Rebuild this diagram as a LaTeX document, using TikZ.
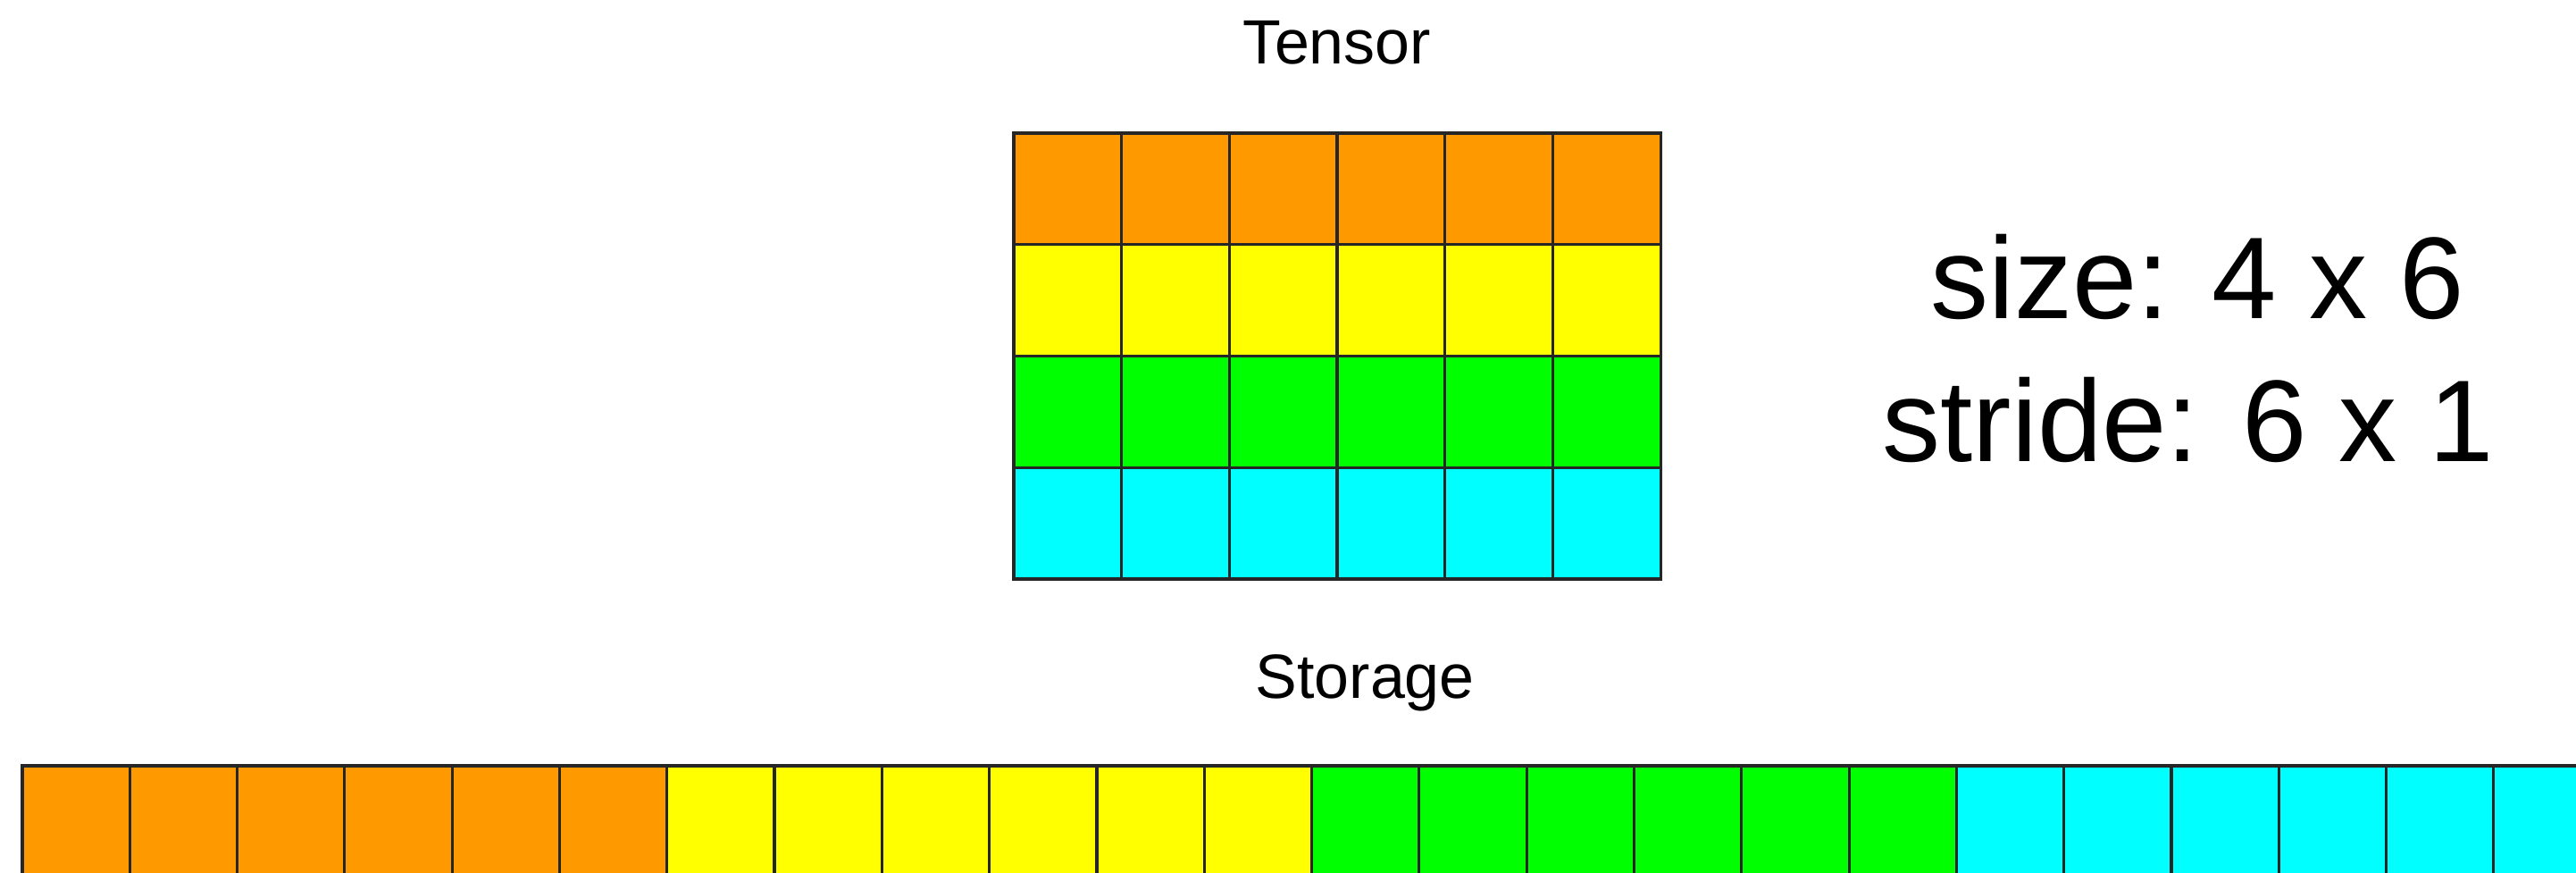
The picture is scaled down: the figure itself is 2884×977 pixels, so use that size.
\documentclass[tikz,border=0pt]{standalone}
\usepackage{fontspec}
\setmainfont{Liberation Sans}
\usepackage{tikz}
\definecolor{rowOrange}{RGB}{255,153,0}
\definecolor{rowYellow}{RGB}{255,255,0}
\definecolor{rowGreen}{RGB}{0,255,0}
\definecolor{rowCyan}{RGB}{0,255,255}
\tikzset{
  cellbox/.style={rectangle,draw=black!85,line width=0.9pt,inner sep=0pt,
    minimum width=1.207cm,minimum height=1.2475cm},
  slotbox/.style={rectangle,draw=black!85,line width=0.9pt,inner sep=0pt,
    minimum width=1.203cm,minimum height=1.2475cm},
  titletext/.style={inner sep=0pt,font=\fontsize{19.9pt}{24pt}\selectfont},
  infotext/.style={inner sep=0pt,font=\fontsize{37pt}{45pt}\selectfont},
}

\begin{document}
\begin{tikzpicture}[x=0.01cm,y=-0.01cm]
  \useasboundingbox (0,0) rectangle (2884,977);
  \clip (0,0) rectangle (2884,977);

  % tensor view: 4 rows of 6 cells
  \node[titletext,anchor=base] (tensorlbl) at (1497,72) {Tensor};
  \foreach \r/\col in {0/rowOrange,1/rowYellow,2/rowGreen,3/rowCyan}
    \foreach \c in {0,...,5}
      \node[cellbox,fill=\col] (t-\r-\c) at ({1135+120.7*(\c+0.5)},{149+124.75*(\r+0.5)}) {};

  % shape and strides
  \node[infotext,anchor=base] (sizelbl)   at (2460,357) {size: 4 x 6};
  \node[infotext,anchor=base] (stridelbl) at (2450,517) {stride: 6 x 1};

  % flat storage underneath
  \node[titletext,anchor=base west] (storagelbl) at (1405,782) {Storage};
  \foreach \r/\col in {0/rowOrange,1/rowYellow,2/rowGreen,3/rowCyan}
    \foreach \c in {0,...,5}
      \node[slotbox,fill=\col] (s-\r-\c) at ({25+120.3*(6*\r+\c+0.5)},919.4) {};
\end{tikzpicture}
\end{document}
